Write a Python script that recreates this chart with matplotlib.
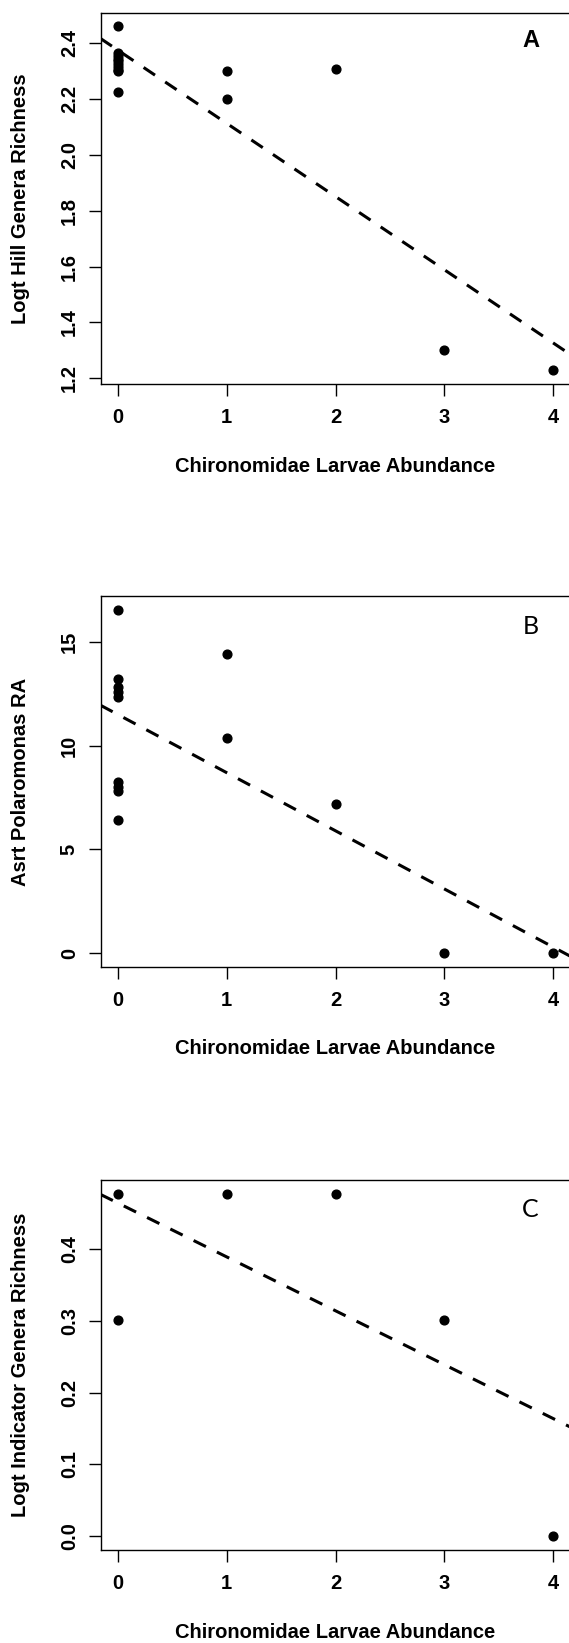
import matplotlib
matplotlib.use('Agg')
import matplotlib.pyplot as plt

# ---- data ----
x_A = [0, 0, 0, 0, 0, 0, 0, 0, 0, 0, 1, 1, 2, 3, 4]
y_A = [2.46, 2.365, 2.355, 2.345, 2.335, 2.325, 2.315, 2.305, 2.30, 2.225,
       2.30, 2.20, 2.307, 1.30, 1.229]
fit_A = (2.375, -0.262)   # intercept, slope

x_B = [0, 0, 0, 0, 0, 0, 0, 0, 0, 1, 1, 2, 3, 4]
y_B = [16.55, 13.2, 12.85, 12.6, 12.35, 8.25, 8.0, 7.8, 6.42,
       14.42, 10.36, 7.2, 0.0, 0.0]
fit_B = (11.5, -2.8)

x_C = [0, 0, 1, 2, 3, 4]
y_C = [0.477, 0.301, 0.477, 0.477, 0.301, 0.0]
fit_C = (0.464, -0.075)

xticks = [0, 1, 2, 3, 4]
yticks_A = [1.2, 1.4, 1.6, 1.8, 2.0, 2.2, 2.4]
yticklabels_A = ["1.2", "1.4", "1.6", "1.8", "2.0", "2.2", "2.4"]
yticks_B = [0, 5, 10, 15]
yticklabels_B = ["0", "5", "10", "15"]
yticks_C = [0.0, 0.1, 0.2, 0.3, 0.4]
yticklabels_C = ["0.0", "0.1", "0.2", "0.3", "0.4"]

xlabel = "Chironomidae Larvae Abundance"
ylabels = ["Logt Hill Genera Richness", "Asrt Polaromonas RA",
           "Logt Indicator Genera Richness"]
letters = ["A", "B", "C"]

# ---- figure ----
W, H = 569, 1643
fig = plt.figure(figsize=(W / 100, H / 100), dpi=100)
plt.rcParams['font.family'] = ['Liberation Sans', 'DejaVu Sans']

left_px, right_px = 100.5, 570.5
left = left_px / W
width = (right_px - left_px) / W
aw = right_px - left_px
panels = [(12.7, 384.0), (596.0, 967.0), (1180.0, 1550.0)]

datasets = [(x_A, y_A, fit_A, yticks_A, yticklabels_A),
            (x_B, y_B, fit_B, yticks_B, yticklabels_B),
            (x_C, y_C, fit_C, yticks_C, yticklabels_C)]

FS = 14.5
for i, ((top_px, bot_px), (xs, ys, fit, yt, ytl)) in enumerate(zip(panels, datasets)):
    ph = bot_px - top_px
    ax = fig.add_axes([left, 1 - bot_px / H, width, ph / H])
    ax.plot(xs, ys, 'o', color='black', ms=6.3, mec='black', zorder=3)
    ax.axline((0, fit[0]), slope=fit[1], color='black', lw=2.2,
              linestyle=(0, (4.5, 4.0)), zorder=2)
    ax.set_xlim(-0.16, 4.16)
    lo, hi = min(ys), max(ys)
    r = hi - lo
    ax.set_ylim(lo - 0.04 * r, hi + 0.04 * r)
    ax.set_xticks(xticks)
    ax.set_xticklabels([str(t) for t in xticks], fontsize=FS, fontweight='bold')
    ax.set_yticks(yt)
    ax.set_yticklabels(ytl, fontsize=FS, fontweight='bold', rotation=90,
                       va='center', ha='right')
    ax.tick_params(axis='both', direction='out', length=8.6, width=1.0,
                   color='black')
    ax.tick_params(axis='x', pad=9)
    ax.tick_params(axis='y', pad=7)
    for s in ['left', 'top', 'bottom']:
        ax.spines[s].set_linewidth(1.0)
        ax.spines[s].set_color('black')
    ax.spines['right'].set_visible(False)

    ax.set_xlabel(xlabel, fontsize=FS, fontweight='bold', va='center')
    ax.xaxis.set_label_coords((335 - left_px) / aw, -82 / ph)
    ax.set_ylabel(ylabels[i], fontsize=FS, fontweight='bold', va='center')
    ax.yaxis.set_label_coords(-(left_px - 21) / aw, 0.5)

    if i == 0:
        ax.text((530.7 - left_px) / aw, (bot_px - 40.7) / ph, letters[i],
                transform=ax.transAxes, fontsize=17, fontweight='bold',
                ha='center', va='center', family=['Liberation Sans', 'DejaVu Sans'])
    else:
        ax.text((530.6 - left_px) / aw, 0.919, letters[i],
                transform=ax.transAxes, fontsize=18, fontweight='normal',
                ha='center', va='center', family=['Lato', 'DejaVu Sans'])

fig.savefig('out.png', dpi=100)
